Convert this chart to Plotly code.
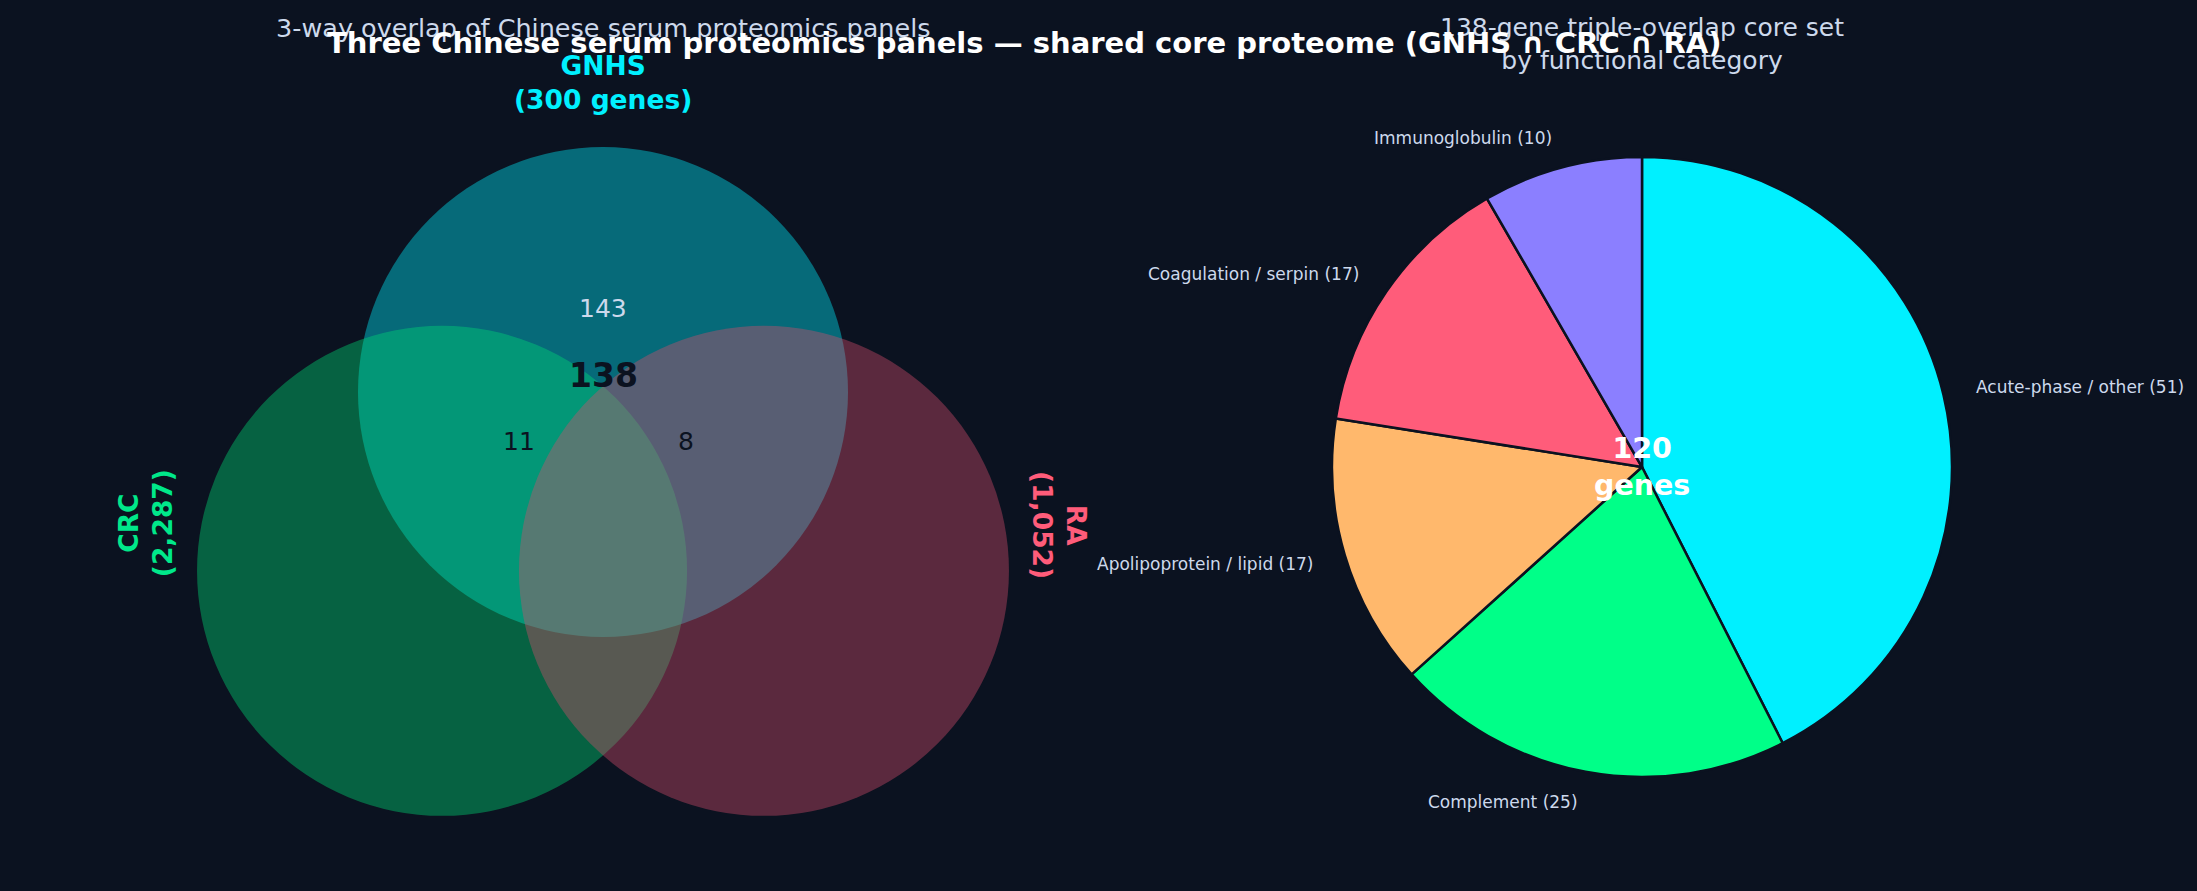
import numpy as np
import plotly.graph_objects as go

# ---- data ----
set_names = ["GNHS", "CRC", "RA"]
set_sizes = [300, 2287, 1052]
set_colors = ["#00F0FF", "#00E88A", "#FF5C7A"]
venn_fill = ["#00F0FF", "#00DC75", "#D54E6B"]

gnhs_only = 143
gnhs_crc_only = 11
gnhs_ra_only = 8
triple = 138

pie_labels = ["Acute-phase / other", "Complement", "Apolipoprotein / lipid",
              "Coagulation / serpin", "Immunoglobulin"]
pie_values = [51, 25, 17, 17, 10]
pie_colors = ["#00F0FF", "#00FF88", "#FFB86C", "#FF5C7A", "#8B7FFF"]

BG = "#0b1220"
LIGHT = "#cdd9ec"
FONT = "DejaVu Sans"
W, H = 2197, 891

fig = go.Figure()

# ---- venn (left panel), 1 axis unit = circle radius ----
R_PX = 245
venn_cx_px, venn_cy_px = 603, 392
centers = [(0.0, 0.0), (-0.657, -0.73), (0.657, -0.73)]
x_half = 2.2
fig.update_layout(
    xaxis=dict(domain=[(venn_cx_px - x_half * R_PX) / W, (venn_cx_px + x_half * R_PX) / W],
               range=[-x_half, x_half], visible=False),
    yaxis=dict(domain=[0, 1], range=[-(H - venn_cy_px) / R_PX, venn_cy_px / R_PX], visible=False),
)
fig.add_trace(go.Scatter(x=[0], y=[0], mode="markers", marker=dict(opacity=0), hoverinfo="skip",
                         showlegend=False))

for (cx, cy), col in zip(centers, venn_fill):
    fig.add_shape(type="circle", xref="x", yref="y", x0=cx - 1, x1=cx + 1, y0=cy - 1, y1=cy + 1,
                  fillcolor=col, opacity=0.4, line=dict(width=0))

label_pos = [(0, 1.263, 0), (-1.869, -0.535, -90), (1.865, -0.543, 90)]
label_text = [f"{set_names[0]}<br>({set_sizes[0]:,} genes)",
              f"{set_names[1]}<br>({set_sizes[1]:,})",
              f"{set_names[2]}<br>({set_sizes[2]:,})"]
for (lx, ly, ang), txt, col in zip(label_pos, label_text, set_colors):
    fig.add_annotation(x=lx, y=ly, xref="x", yref="y", text=f"<b>{txt}</b>", showarrow=False,
                       textangle=ang, xanchor="center", yanchor="middle",
                       font=dict(family=FONT, size=26.5, color=col))

counts = [(0, 0.339, gnhs_only, LIGHT, False),
          (0, 0.069, triple, "#0b1220", True),
          (-0.343, -0.204, gnhs_crc_only, "#0b1220", False),
          (0.339, -0.204, gnhs_ra_only, "#0b1220", False)]
for cx, cy, n, col, bold in counts:
    fig.add_annotation(x=cx, y=cy, xref="x", yref="y", showarrow=False,
                       xanchor="center", yanchor="middle",
                       text=f"<b>{n}</b>" if bold else str(n),
                       font=dict(family=FONT, size=33 if bold else 25, color=col))

# ---- pie (right panel) ----
pie_cx, pie_cy, pie_r = 1642, 467, 310
fig.add_trace(go.Pie(
    labels=pie_labels, values=pie_values, sort=False, direction="clockwise", rotation=0,
    marker=dict(colors=pie_colors, line=dict(color=BG, width=2.5)),
    textinfo="none", showlegend=False,
    domain=dict(x=[(pie_cx - pie_r) / W, (pie_cx + pie_r) / W],
                y=[(H - pie_cy - pie_r) / H, (H - pie_cy + pie_r) / H]),
))

total = sum(pie_values)
cum = np.cumsum([0] + pie_values)
for i, (lab, v) in enumerate(zip(pie_labels, pie_values)):
    theta = np.deg2rad((cum[i] + v / 2) / total * 360)
    px_x = pie_cx + 1.1 * pie_r * np.sin(theta)
    px_y = pie_cy - 1.1 * pie_r * np.cos(theta)
    fig.add_annotation(x=px_x / W, y=1 - px_y / H, xref="paper", yref="paper", showarrow=False,
                       text=f"{lab} ({v})", xanchor="left" if np.sin(theta) > 0 else "right",
                       yanchor="middle", font=dict(family=FONT, size=17, color=LIGHT))

fig.add_annotation(x=pie_cx / W, y=1 - pie_cy / H, xref="paper", yref="paper", showarrow=False,
                   xanchor="center", yanchor="middle",
                   text=f"<b>{total}<br>genes</b>", font=dict(family=FONT, size=28.5, color="white"))

# ---- titles ----
fig.add_annotation(x=venn_cx_px / W, y=1 - 28 / H, xref="paper", yref="paper", showarrow=False,
                   xanchor="center", yanchor="middle",
                   text="3-way overlap of Chinese serum proteomics panels",
                   font=dict(family=FONT, size=25.5, color=LIGHT))
fig.add_annotation(x=pie_cx / W, y=1 - 44 / H, xref="paper", yref="paper", showarrow=False,
                   xanchor="center", yanchor="middle",
                   text=f"{triple}-gene triple-overlap core set<br>by functional category",
                   font=dict(family=FONT, size=25, color=LIGHT))
fig.add_annotation(x=1024 / W, y=1 - 43 / H, xref="paper", yref="paper", showarrow=False,
                   xanchor="center", yanchor="middle",
                   text="<b>Three Chinese serum proteomics panels — shared core proteome (GNHS ∩ CRC ∩ RA)</b>",
                   font=dict(family=FONT, size=29, color="white"))

fig.update_layout(width=W, height=H, margin=dict(l=0, r=0, t=0, b=0),
                  paper_bgcolor=BG, plot_bgcolor=BG)

fig.write_html("out.html", config={"displayModeBar": False},
               post_script="document.body.style.margin='0px';")
